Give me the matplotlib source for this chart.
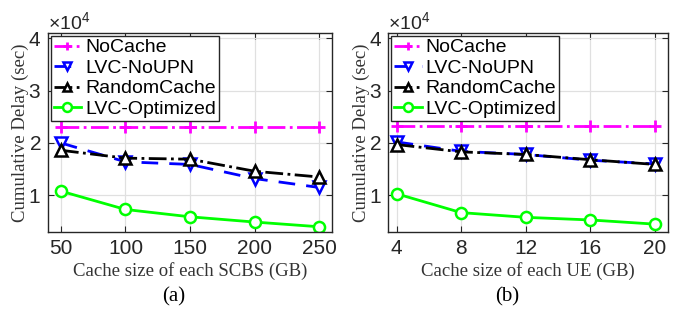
import matplotlib

matplotlib.use("Agg")
import matplotlib.pyplot as plt
from matplotlib.ticker import ScalarFormatter

plt.rcParams["font.family"] = ["Liberation Sans", "DejaVu Sans"]
plt.rcParams["mathtext.fontset"] = "custom"
plt.rcParams["mathtext.rm"] = "Liberation Sans"

# ---------------------------------------------------------------------------
# Data (cumulative delay in seconds)
# ---------------------------------------------------------------------------
scbs_sizes = [50, 100, 150, 200, 250]
ue_sizes = [4, 8, 12, 16, 20]

series_names = ["NoCache", "LVC-NoUPN", "RandomCache", "LVC-Optimized"]

# panel (a): cache size of each SCBS
a_nocache = [23000, 23000, 23000, 23000, 23000]
a_noupn = [20000, 16400, 15900, 13200, 11500]
a_random = [18600, 17100, 16900, 14600, 13500]
a_optimized = [10800, 7300, 5900, 4900, 4000]

# panel (b): cache size of each UE
b_nocache = [23300, 23300, 23300, 23300, 23300]
b_noupn = [20200, 18400, 17800, 16700, 16000]
b_random = [19700, 18300, 17800, 16800, 15900]
b_optimized = [10300, 6700, 5800, 5300, 4500]

STYLES = [
    dict(color="#FF00FF", linestyle="-.", marker="+", markersize=8, mew=2),
    dict(color="#0000FF", linestyle=(0, (6, 4)), marker="v", markersize=8,
         mfc="white", mew=1.8),
    dict(color="black", linestyle="-.", marker="^", markersize=8,
         mfc="white", mew=1.8),
    dict(color="#00FF00", linestyle="-", marker="o", markersize=8,
         mfc="white", mew=1.8),
]

fig = plt.figure(figsize=(6.78, 3.2), dpi=100)
ax_a = fig.add_axes([0.0708, 0.275, 0.419, 0.622])
ax_b = fig.add_axes([0.573, 0.275, 0.412, 0.622])


def draw_panel(ax, x, ys, xlabel, xlim, caption, cap_x):
    for y, name, st in zip(ys, series_names, STYLES):
        ax.plot(x, y, label=name, linewidth=2, **st)
    ax.set_xlim(*xlim)
    ax.set_ylim(3000, 41000)
    ax.set_xticks(x)
    ax.set_yticks([10000, 20000, 30000, 40000])
    fmt = ScalarFormatter(useMathText=True)
    fmt.set_powerlimits((0, 0))
    ax.yaxis.set_major_formatter(fmt)
    ax.yaxis.get_offset_text().set_fontsize(14)
    ax.yaxis.get_offset_text().set_color("#333333")
    ax.grid(True, color="#e0e0e0", linewidth=0.9)
    ax.set_axisbelow(True)
    ax.tick_params(direction="in", labelsize=15, length=4, colors="#262626",
                   top=True, right=True, pad=5)
    for sp in ax.spines.values():
        sp.set_color("#262626")
        sp.set_linewidth(1.0)
    ax.set_xlabel(xlabel, family="Liberation Serif", fontsize=13.5,
                  color="#333333", labelpad=3)
    ax.set_ylabel("Cumulative Delay (sec)", family="Liberation Serif",
                  fontsize=13.5, color="#333333", labelpad=-1)
    leg = ax.legend(loc="upper left", fontsize=14, frameon=True, fancybox=False,
                    borderpad=0.15, labelspacing=0.15, handlelength=1.4,
                    handletextpad=0.2, borderaxespad=0.15, markerscale=0.8)
    leg.get_frame().set_edgecolor("#262626")
    leg.get_frame().set_linewidth(1.0)
    leg.get_frame().set_alpha(1.0)
    fig.text(cap_x, 1 - 297 / 320, caption, ha="center", va="center",
             family="Liberation Serif", fontsize=15)


draw_panel(ax_a, scbs_sizes, [a_nocache, a_noupn, a_random, a_optimized],
           "Cache size of each SCBS (GB)", (40, 260), "(a)", 174 / 678)
draw_panel(ax_b, ue_sizes, [b_nocache, b_noupn, b_random, b_optimized],
           "Cache size of each UE (GB)", (3.5, 20.8), "(b)", 507 / 678)

fig.savefig("out.png", dpi=100)
